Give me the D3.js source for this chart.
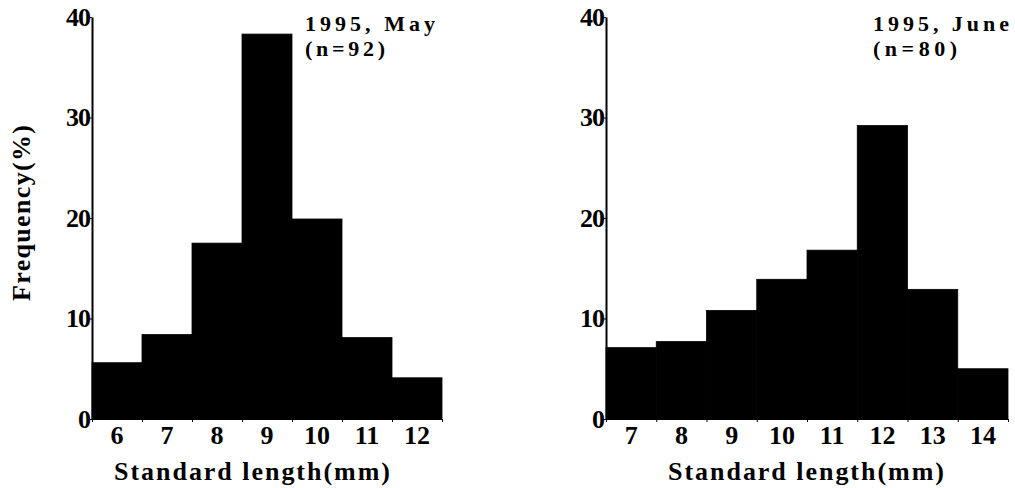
<!DOCTYPE html>
<html>
<head>
<meta charset="utf-8">
<script src="https://cdn.jsdelivr.net/npm/d3@7"></script>
<style>
  body { margin: 0; background: #fff; }
  text { font-family: "Liberation Serif", serif; font-weight: bold; fill: #000; }
</style>
</head>
<body>
<div id="chart"></div>
<script>
// size classes (mm) and frequencies (%)
var mayLengths = [6, 7, 8, 9, 10, 11, 12];
var mayFreq = [5.6, 8.4, 17.5, 38.3, 19.9, 8.1, 4.1];
var juneLengths = [7, 8, 9, 10, 11, 12, 13, 14];
var juneFreq = [7.1, 7.7, 10.8, 13.9, 16.8, 29.2, 12.9, 5.0];
var yTicks = [0, 10, 20, 30, 40];
var titles = [["1995, May", "(n=92)"], ["1995, June", "(n=80)"]];

var width = 1015, height = 488;

var svg = d3.select("#chart").append("svg")
  .attr("width", width)
  .attr("height", height);

var y = d3.scaleLinear().domain([0, 40]).range([419, 17]);

var panels = [
  {lengths: mayLengths, freq: mayFreq, left: 92, right: 442, title: titles[0], tx: 305, tw: [130, 80], lx: 252},
  {lengths: juneLengths, freq: juneFreq, left: 606, right: 1008, title: titles[1], tx: 873, tw: [136, 84], lx: 806}
];

panels.forEach(function(p) {
  var lo = d3.min(p.lengths) - 0.5, hi = d3.max(p.lengths) + 0.5;
  var x = d3.scaleLinear().domain([lo, hi]).range([p.left, p.right]);
  var g = svg.append("g");

  // histogram bars
  g.selectAll("rect.bar")
    .data(p.lengths)
    .enter().append("rect")
    .attr("class", "bar")
    .attr("x", function(d) { return x(d - 0.5); })
    .attr("width", function(d) { return x(d + 0.5) - x(d - 0.5); })
    .attr("y", function(d, i) { return y(p.freq[i]); })
    .attr("height", function(d, i) { return y(0) - y(p.freq[i]); })
    .attr("fill", "#000")
    .attr("stroke", "#000")
    .attr("stroke-width", 0.8);

  // y axis
  var yAxis = g.append("g")
    .attr("transform", "translate(" + p.left + ",0)")
    .call(d3.axisLeft(y).tickValues(yTicks).tickSize(3).tickSizeOuter(0));
  yAxis.select(".domain").attr("stroke-width", 2);
  yAxis.selectAll("text")
    .attr("x", -2)
    .style("font-size", "26px")
    .style("font-family", "Liberation Serif")
    .style("letter-spacing", "-1px");

  // x axis: ticks at class boundaries, labels at class centres
  var bounds = d3.range(p.lengths.length + 1).map(function(i) { return lo + i; });
  var xAxis = g.append("g")
    .attr("transform", "translate(0," + y(0) + ")")
    .call(d3.axisBottom(x).tickValues(bounds).tickSize(3).tickSizeOuter(0).tickFormat(""));
  xAxis.select(".domain").attr("stroke-width", 1);

  g.selectAll("text.xl")
    .data(p.lengths)
    .enter().append("text")
    .attr("class", "xl")
    .attr("x", function(d) { return x(d); })
    .attr("y", 444)
    .attr("text-anchor", "middle")
    .style("font-size", "26px")
    .text(function(d) { return d; });

  // x axis title
  g.append("text")
    .attr("x", p.lx)
    .attr("y", 480)
    .attr("text-anchor", "middle")
    .attr("textLength", 276)
    .attr("lengthAdjust", "spacing")
    .style("font-size", "26px")
    .text("Standard length(mm)");

  // panel title, two lines
  g.append("text")
    .attr("x", p.tx)
    .attr("y", 31)
    .attr("textLength", p.tw[0])
    .attr("lengthAdjust", "spacing")
    .style("font-size", "22px")
    .text(p.title[0]);
  g.append("text")
    .attr("x", p.tx)
    .attr("y", 56)
    .attr("textLength", p.tw[1])
    .attr("lengthAdjust", "spacing")
    .style("font-size", "22px")
    .text(p.title[1]);
});

// y axis title
svg.append("text")
  .attr("transform", "translate(30,213) rotate(-90)")
  .attr("text-anchor", "middle")
  .attr("textLength", 176)
  .attr("lengthAdjust", "spacing")
  .style("font-size", "26px")
  .text("Frequency(%)");
</script>
</body>
</html>
